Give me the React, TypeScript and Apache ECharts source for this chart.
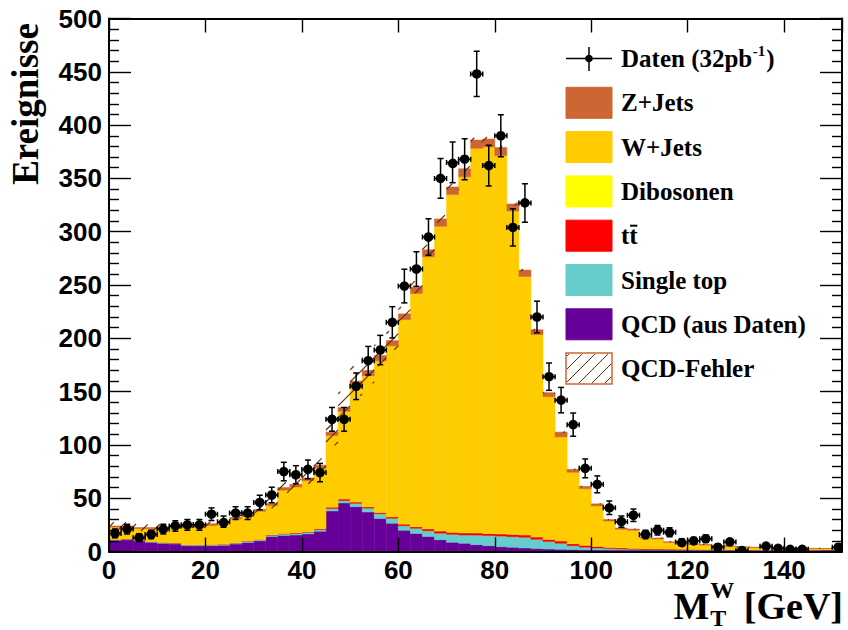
import React, { useEffect, useRef } from 'react';
import * as echarts from 'echarts';

// ---------------- data ----------------
const BIN_WIDTH = 2.5;
const X_MIN = 0;
const X_MAX = 152;
const X_INTERVAL = 20;
const Y_MIN = 0;
const Y_MAX = 500;
const Y_INTERVAL = 50;

// observed events per 2.5 GeV bin (bin 0 = 0-2.5 GeV)
const dataCounts = [
  17, 21, 13, 16, 21, 24, 25, 25, 35, 28,
  36, 36, 46, 53, 75, 72, 77, 74, 124, 124,
  155, 179, 189, 215, 249, 265, 295, 350, 365, 368,
  448, 362, 390, 304, 327, 220, 164, 142, 119, 78,
  63, 41, 28, 34, 16, 20, 18, 9, 10, 12,
  4, 9, 1, 0, 5, 3, 2, 2, 0, 0, 4,
];

const qcd = [
  10.5, 11, 10, 8.6, 7.7, 7.2, 5.5, 5.5, 5.5, 5.8,
  7, 8.5, 10, 14, 15, 15.5, 16.5, 19, 38, 45.5,
  42, 37, 31, 26.5, 20, 17, 14, 11, 8.6, 7.7,
  6.4, 5.5, 4.5, 3.9, 3.3, 2.7, 2.3, 2, 1.8, 1.6,
  1.5, 1.4, 1.3, 1.3, 1.3, 1.3, 1.3, 1.3, 1.3, 1.3,
  1.3, 1.3, 1.3, 1.3, 1.3, 1.3, 1.3, 1.3, 1.3, 1.3, 1.3,
];

const singleTop = [
  0.6, 0.6, 0.6, 0.6, 0.6, 0.6, 0.7, 0.7, 0.8, 0.8,
  0.9, 1, 1, 1.2, 1.3, 1.4, 1.5, 1.6, 2.3, 2.3,
  3.2, 3.7, 4.5, 4.6, 4.2, 4.8, 5.5, 6.2, 7.5, 7.8,
  9, 9.5, 10, 10, 10, 8.7, 7, 5.7, 3.6, 2.5,
  1.8, 1.3, 1, 0.8, 0.6, 0.5, 0.5, 0.4, 0.4, 0.3,
  0.3, 0.3, 0.3, 0.2, 0.2, 0.2, 0.2, 0.2, 0.2, 0.2, 0.2,
];

const ttbar = [
  0.4, 0.4, 0.4, 0.4, 0.4, 0.4, 0.4, 0.4, 0.4, 0.4,
  0.5, 0.5, 0.5, 0.8, 0.8, 0.8, 0.8, 1.0, 1.4, 1.5,
  1.3, 1.3, 1.3, 1.5, 1.5, 1.5, 1.8, 2, 2, 2,
  2, 2, 2, 2.2, 2.2, 2.2, 2.2, 2.2, 2, 1.8,
  1.6, 1.4, 1.2, 1, 0.9, 0.8, 0.7, 0.6, 0.5, 0.5,
  0.4, 0.3, 0.3, 0.3, 0.3, 0.3, 0.3, 0.3, 0.3, 0.3, 0.3,
];

const diboson = [
  0.2, 0.2, 0.2, 0.2, 0.2, 0.2, 0.2, 0.2, 0.2, 0.2,
  0.2, 0.2, 0.2, 0.3, 0.3, 0.3, 0.3, 0.3, 0.3, 0.3,
  0.3, 0.3, 0.3, 0.3, 0.3, 0.5, 0.5, 0.5, 0.5, 0.5,
  0.5, 0.5, 0.5, 0.5, 0.5, 0.5, 0.5, 0.5, 0.5, 0.5,
  0.5, 0.3, 0.3, 0.3, 0.2, 0.2, 0.2, 0.2, 0.2, 0.2,
  0.2, 0.2, 0.2, 0.2, 0.2, 0.2, 0.2, 0.2, 0.2, 0.2, 0.2,
];

const wJets = [
  11.1, 10.6, 10.1, 11.5, 12.9, 14.4, 16.0, 16.0, 17.6, 19.3,
  21.9, 22.7, 26.0, 26.7, 40.1, 42.5, 47.3, 56.1, 66.8, 81.9,
  109.1, 122.6, 141.8, 160.0, 191.6, 218.2, 254.7, 285.3, 316.2, 333.5,
  360.3, 362.0, 354.5, 302.9, 242.0, 189.4, 133.2, 97.1, 66.4, 52.5,
  37.4, 24.1, 17.0, 16.6, 9.6, 9.0, 5.7, 4.8, 4.2, 3.8,
  2.7, 2.6, 1.9, 1.7, 1.7, 1.4, 1.2, 1.2, 0.6, 0.6, 0.6,
];

const zJets = [
  1.2, 1.2, 1.2, 1.2, 1.2, 1.2, 1.2, 1.2, 1.5, 1.5,
  1.5, 1.6, 1.8, 2, 2.5, 2.5, 2.6, 3, 3.2, 3.5,
  4, 5, 5, 5, 5.3, 6, 6.5, 7, 7.2, 7.5,
  7.8, 7.5, 7.5, 6.5, 6, 4.5, 3.8, 4.5, 2.8, 2.2,
  1.9, 1.5, 1.2, 1.1, 1, 0.9, 0.8, 0.7, 0.7, 0.6,
  0.6, 0.5, 0.5, 0.5, 0.5, 0.5, 0.4, 0.4, 0.4, 0.4, 0.4,
];

const qcdError = [
  3.5, 3.6, 3.3, 2.9, 2.6, 2.4, 1.9, 1.9, 1.9, 2,
  2.3, 2.8, 3.3, 4.6, 5, 5.1, 5.4, 6.3, 12.5, 15,
  13.9, 12.2, 10.2, 8.7, 6.6, 5.6, 4.6, 3.6, 2.8, 2.5,
  2.1, 1.8, 1.5, 1.3, 1.1, 0.9, 0.8, 0.7, 0.6, 0.5,
  0.5, 0.4, 0.4, 0.4, 0.4, 0.4, 0.4, 0.4, 0.4, 0.4,
  0.4, 0.4, 0.4, 0.4, 0.4, 0.4, 0.4, 0.4, 0.4, 0.4, 0.4,
];

const dataLabelMain = 'Daten (32pb';
const dataLabelSup = '-1';
const dataLabelEnd = ')';
const stackNames = ['QCD (aus Daten)', 'Single top', 'tt', 'Dibosonen', 'W+Jets', 'Z+Jets'];
const legendOrder = ['Z+Jets', 'W+Jets', 'Dibosonen', 'tt', 'Single top', 'QCD (aus Daten)'];
const errorLabel = 'QCD-Fehler';
const yTitle = 'Ereignisse';
const xTitleMain = 'M';
const xTitleSup = 'W';
const xTitleSub = 'T';
const xTitleUnit = '[GeV]';

// ---------------- styles ----------------
const COLORS: Record<string, string> = {
  'QCD (aus Daten)': '#660099',
  'Single top': '#66CCCC',
  tt: '#FF0000',
  Dibosonen: '#FFFF00',
  'W+Jets': '#FFCC00',
  'Z+Jets': '#CC6633',
};
const HATCH_COLOR = '#6a2c08';
const SANS = '"Liberation Sans", Arial, Helvetica, sans-serif';
const SERIF = '"Liberation Serif", "Times New Roman", Times, serif';
const GRID = { left: 109, top: 18.5, width: 733, height: 533 };

function measure(text: string, font: string): number {
  const ctx = document.createElement('canvas').getContext('2d');
  if (!ctx) return text.length * 10;
  ctx.font = font;
  return ctx.measureText(text).width;
}

function hatchLines(x0: number, y0: number, x1: number, y1: number, spacing: number, color: string, lw: number, z?: number) {
  const out: any[] = [];
  for (let c = Math.ceil((x0 + y0) / spacing) * spacing; c <= x1 + y1; c += spacing) {
    const xa = Math.max(x0, c - y1);
    const xb = Math.min(x1, c - y0);
    if (xb - xa < 0.3) continue;
    const el: any = {
      type: 'line',
      shape: { x1: xa, y1: c - xa, x2: xb, y2: c - xb },
      style: { stroke: color, lineWidth: lw },
    };
    if (z !== undefined) el.z = z;
    out.push(el);
  }
  return out;
}

function txt(text: string, x: number, y: number, font: string, align = 'left', extra: any = {}) {
  return {
    type: 'text',
    x,
    y,
    z: 30,
    ...extra,
    style: {
      text,
      font,
      fill: '#000',
      align,
      verticalAlign: 'middle',
      textAlign: align,
      textVerticalAlign: 'middle',
    },
  };
}

function buildOption() {
  const stackValues: Record<string, number[]> = {
    'QCD (aus Daten)': qcd,
    'Single top': singleTop,
    tt: ttbar,
    Dibosonen: diboson,
    'W+Jets': wJets,
    'Z+Jets': zJets,
  };
  const nBins = dataCounts.length;
  let cumulative = new Array(nBins).fill(0);
  const series: any[] = [];
  stackNames.forEach((name) => {
    const vals = stackValues[name];
    const bottoms = cumulative.slice();
    const tops = bottoms.map((b, i) => b + vals[i]);
    cumulative = tops;
    const color = COLORS[name];
    series.push({
      type: 'custom',
      name,
      clip: true,
      silent: true,
      z: 2,
      data: tops.map((t, i) => [i * BIN_WIDTH, (i + 1) * BIN_WIDTH, bottoms[i], t]),
      renderItem: (params: any, api: any) => {
        const p0 = api.coord([api.value(0), api.value(3)]);
        const p1 = api.coord([api.value(1), api.value(2)]);
        return {
          type: 'rect',
          shape: { x: p0[0], y: p0[1], width: p1[0] - p0[0], height: p1[1] - p0[1] },
          style: { fill: color, stroke: color, lineWidth: 0.5 },
        };
      },
    });
  });
  const total = cumulative;

  // QCD error band (hatched)
  series.push({
    type: 'custom',
    name: errorLabel,
    clip: true,
    silent: true,
    z: 3,
    data: total.map((t, i) => [i * BIN_WIDTH, (i + 1) * BIN_WIDTH, Math.max(0, t - qcdError[i]), t + qcdError[i]]),
    renderItem: (params: any, api: any) => {
      const p0 = api.coord([api.value(0), api.value(3)]);
      const p1 = api.coord([api.value(1), api.value(2)]);
      return { type: 'group', children: hatchLines(p0[0], p0[1], p1[0], p1[1], 12, HATCH_COLOR, 1.2) };
    },
  });

  // data points
  const points = dataCounts
    .map((n, i) => [i * BIN_WIDTH + BIN_WIDTH / 2, n])
    .filter((d) => d[1] > 0);
  series.push({
    type: 'custom',
    name: 'Daten',
    clip: true,
    silent: true,
    z: 4,
    data: points,
    renderItem: (params: any, api: any) => {
      const x = api.value(0);
      const n = api.value(1);
      const e = Math.sqrt(n);
      const c = api.coord([x, n]);
      const lo = api.coord([x, n - e]);
      const hi = api.coord([x, n + e]);
      const l = api.coord([x - BIN_WIDTH / 2, n]);
      const r = api.coord([x + BIN_WIDTH / 2, n]);
      const st = { stroke: '#000', lineWidth: 1.5 };
      return {
        type: 'group',
        children: [
          { type: 'line', shape: { x1: c[0], y1: lo[1], x2: c[0], y2: hi[1] }, style: st },
          { type: 'line', shape: { x1: c[0] - 3, y1: lo[1], x2: c[0] + 3, y2: lo[1] }, style: st },
          { type: 'line', shape: { x1: c[0] - 3, y1: hi[1], x2: c[0] + 3, y2: hi[1] }, style: st },
          { type: 'line', shape: { x1: l[0], y1: c[1], x2: r[0], y2: c[1] }, style: st },
          { type: 'line', shape: { x1: l[0], y1: c[1] - 2.5, x2: l[0], y2: c[1] + 2.5 }, style: st },
          { type: 'line', shape: { x1: r[0], y1: c[1] - 2.5, x2: r[0], y2: c[1] + 2.5 }, style: st },
          { type: 'circle', shape: { cx: c[0], cy: c[1], r: 4.8 }, style: { fill: '#000' } },
        ],
      };
    },
  });

  // ---------------- legend & titles (graphic) ----------------
  const graphic: any[] = [];
  const LEG_FONT = `bold 25px ${SERIF}`;
  const boxX = 566;
  const boxW = 46;
  const boxH = 31;
  const textX = 621;
  const rowStep = 44.3;
  const firstRow = 58.5;

  // data entry
  graphic.push({ type: 'line', z: 30, shape: { x1: boxX, y1: firstRow, x2: boxX + boxW, y2: firstRow }, style: { stroke: '#000', lineWidth: 1.5 } });
  graphic.push({ type: 'line', z: 30, shape: { x1: 589, y1: firstRow - 11.5, x2: 589, y2: firstRow + 12.5 }, style: { stroke: '#000', lineWidth: 1.5 } });
  graphic.push({ type: 'circle', z: 30, shape: { cx: 589, cy: firstRow, r: 3.8 }, style: { fill: '#000' } });
  const wMain = measure(dataLabelMain, LEG_FONT);
  const SUP_FONT = `bold 15px ${SERIF}`;
  const wSup = measure(dataLabelSup, SUP_FONT);
  graphic.push(txt(dataLabelMain, textX, firstRow, LEG_FONT));
  graphic.push(txt(dataLabelSup, textX + wMain + 0.5, firstRow - 8, SUP_FONT));
  graphic.push(txt(dataLabelEnd, textX + wMain + wSup + 1.5, firstRow, LEG_FONT));

  legendOrder.forEach((name, k) => {
    const cy = firstRow + rowStep * (k + 1);
    graphic.push({
      type: 'rect',
      z: 30,
      shape: { x: boxX, y: cy - boxH / 2, width: boxW, height: boxH },
      style: { fill: COLORS[name], stroke: COLORS[name], lineWidth: 1 },
    });
    graphic.push(txt(name, textX, cy, LEG_FONT));
    if (name === 'tt') {
      const w1 = measure('t', LEG_FONT);
      const w2 = measure('tt', LEG_FONT);
      graphic.push({
        type: 'line',
        z: 30,
        shape: { x1: textX + w1 + 0.8, y1: cy - 10, x2: textX + w2 - 0.3, y2: cy - 10 },
        style: { stroke: '#000', lineWidth: 2 },
      });
    }
  });
  // error entry
  const cyErr = firstRow + rowStep * 7;
  graphic.push({
    type: 'rect',
    z: 30,
    shape: { x: boxX, y: cyErr - boxH / 2, width: boxW, height: boxH },
    style: { fill: '#fff', stroke: '#CC6633', lineWidth: 1.5 },
  });
  hatchLines(boxX + 1, cyErr - boxH / 2 + 1, boxX + boxW - 1, cyErr + boxH / 2 - 1, 13, HATCH_COLOR, 1, 31).forEach((el) =>
    graphic.push(el)
  );
  graphic.push(txt(errorLabel, textX, cyErr, LEG_FONT));

  // y title
  graphic.push(txt(yTitle, 25, 104, `bold 37px ${SERIF}`, 'center', { rotation: Math.PI / 2 }));

  // x title
  const T_FONT = `bold 38px ${SERIF}`;
  const S_FONT = `bold 24px ${SERIF}`;
  const unitRight = 843;
  const wUnit = measure(xTitleUnit, T_FONT);
  const wSpace = measure(' ', T_FONT);
  const wScript = Math.max(measure(xTitleSup, S_FONT), measure(xTitleSub, S_FONT));
  const scriptX = unitRight - wUnit - wSpace - wScript;
  graphic.push(txt(xTitleUnit, unitRight, 606, T_FONT, 'right'));
  graphic.push(txt(xTitleSup, scriptX, 590, S_FONT, 'left'));
  graphic.push(txt(xTitleSub, scriptX, 618, S_FONT, 'left'));
  graphic.push(txt(xTitleMain, scriptX - 1, 606, T_FONT, 'right'));

  const labelStyle = { color: '#000', fontSize: 26, fontWeight: 'bold', fontFamily: SANS };
  const lineStyle = { color: '#000', width: 2 };
  const tickStyle = { color: '#000', width: 1.4 };

  return {
    animation: false,
    backgroundColor: '#fff',
    grid: { ...GRID, containLabel: false },
    xAxis: [
      {
        type: 'value', min: X_MIN, max: X_MAX, interval: X_INTERVAL, position: 'bottom', z: 10,
        axisLine: { show: true, onZero: false, lineStyle },
        axisTick: { show: true, inside: true, length: 14, lineStyle: tickStyle },
        axisLabel: { show: true, showMaxLabel: false, margin: 5, ...labelStyle },
        splitLine: { show: false },
      },
      {
        type: 'value', min: X_MIN, max: X_MAX, interval: X_INTERVAL, position: 'top', z: 10,
        axisLine: { show: true, onZero: false, lineStyle },
        axisTick: { show: true, inside: true, length: 14, lineStyle: tickStyle },
        axisLabel: { show: false },
        splitLine: { show: false },
      },
    ],
    yAxis: [
      {
        type: 'value', min: Y_MIN, max: Y_MAX, interval: Y_INTERVAL, position: 'left', z: 10,
        axisLine: { show: true, onZero: false, lineStyle },
        axisTick: { show: true, inside: true, length: 22, lineStyle: tickStyle },
        minorTick: { show: true, splitNumber: 5, length: 10, lineStyle: tickStyle },
        axisLabel: { show: true, margin: 7, ...labelStyle },
        splitLine: { show: false },
        minorSplitLine: { show: false },
      },
      {
        type: 'value', min: Y_MIN, max: Y_MAX, interval: Y_INTERVAL, position: 'right', z: 10,
        axisLine: { show: true, onZero: false, lineStyle },
        axisTick: { show: true, inside: true, length: 22, lineStyle: tickStyle },
        minorTick: { show: true, splitNumber: 5, length: 10, lineStyle: tickStyle },
        axisLabel: { show: false },
        splitLine: { show: false },
        minorSplitLine: { show: false },
      },
    ],
    series,
    graphic,
  };
}

export default function App() {
  const ref = useRef<HTMLDivElement>(null);
  useEffect(() => {
    if (!ref.current) return;
    const chart = echarts.init(ref.current, null, { renderer: 'svg' });
    chart.setOption(buildOption() as any);
    return () => chart.dispose();
  }, []);
  return (
    <div
      ref={ref}
      style={{ position: 'fixed', left: 0, top: 0, width: 848, height: 630, background: '#fff' }}
    />
  );
}
